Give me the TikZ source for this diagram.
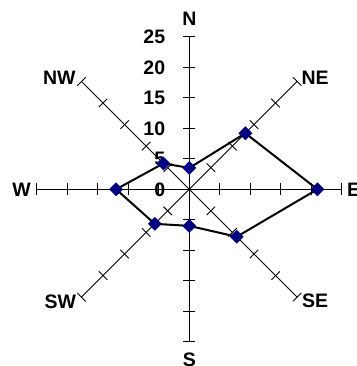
\documentclass[tikz,border=0pt]{standalone}
\usepackage{fontspec}
\setmainfont{Liberation Sans}
\usetikzlibrary{shapes.geometric}
\definecolor{marknavy}{RGB}{0,0,128}
\begin{document}
\begin{tikzpicture}[x=1pt,y=1pt,
  axisline/.style={line width=0.9pt,black},
  lbl/.style={font=\fontsize{19.5}{20}\selectfont\bfseries, inner sep=0pt},
  datamark/.style={diamond, fill=marknavy, draw=none, inner sep=0pt, minimum width=14pt, minimum height=14pt},
  dataline/.style={line width=2pt, black, line join=miter}]
\useasboundingbox (-189.3,-176.7) rectangle (166.7,189.3);
\coordinate (O) at (0,0);
\def\u{6.1}
\foreach \a/\n in {90/N,45/NE,0/E,-45/SE,-90/S,-135/SW,180/W,135/NW} {
  \draw[axisline] (O) -- (\a:152.5) coordinate (e\n);
  \foreach \k in {5,10,...,25} \draw[axisline,rotate=\a] (\k*\u,-6) -- (\k*\u,6);
}
% scale labels
\foreach \k in {0,5,...,25} \node[lbl,anchor=east] (n\k) at (-24,\k*\u) {\k};
% direction labels
\node[lbl,anchor=base] (tN) at (0,164) {N};
\node[lbl,anchor=north] (tS) at (0,-163.7) {S};
\node[lbl,anchor=west] (tE) at (157.5,0) {E};
\node[lbl,anchor=east] (tW) at (-158.3,0) {W};
\node[lbl,anchor=west] (tNE) at (112,111.3) {NE};
\node[lbl,anchor=east] (tNW) at (-113.5,111.3) {NW};
\node[lbl,anchor=east] (tSW) at (-113,-112.2) {SW};
\node[lbl,anchor=west] (tSE) at (112.5,-111.7) {SE};
% data
\foreach \a/\v/\i in {90/3.5/1,45/13/2,0/21/3,-45/11/4,-90/6/5,-135/8/6,180/12/7,135/6/8}
  \coordinate (p\i) at (\a:\v*\u);
\draw[dataline] (p1) -- (p2) -- (p3) -- (p4) -- (p5) -- (p6) -- (p7) -- (p8) -- cycle;
\foreach \i in {1,...,8} \node[datamark] (m\i) at (p\i) {};
\end{tikzpicture}
\end{document}
